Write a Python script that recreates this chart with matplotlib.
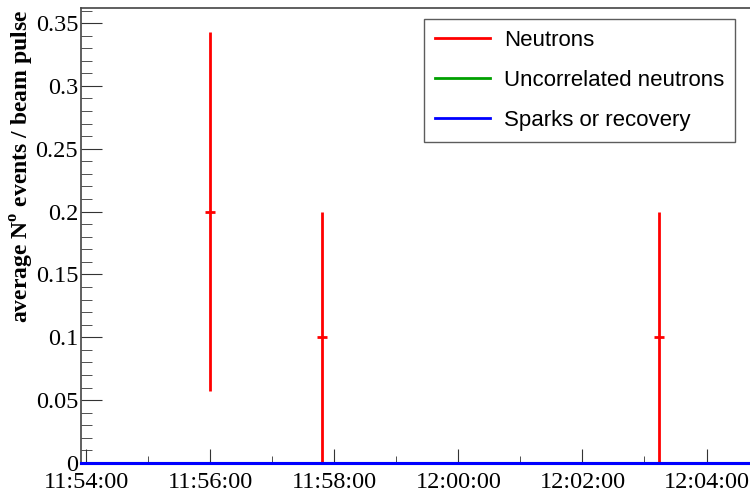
import datetime
import matplotlib
matplotlib.use("Agg")
import matplotlib.pyplot as plt
import matplotlib.dates as mdates
from matplotlib.lines import Line2D
from matplotlib.ticker import MultipleLocator

plt.rcParams['mathtext.fontset'] = 'custom'
plt.rcParams['mathtext.bf'] = 'Liberation Serif:bold'
plt.rcParams['mathtext.rm'] = 'Liberation Serif'

# data
times = ['11:56:00', '11:57:48', '12:03:14']
neutrons = [0.2, 0.1, 0.1]
neutrons_err = [0.143, 0.1, 0.1]
labels = ['Neutrons', 'Uncorrelated neutrons', 'Sparks or recovery']
colors = ['#ff0000', '#00a000', '#0000ff']

day = datetime.date(2000, 1, 1)
def t(s):
    return datetime.datetime.combine(day, datetime.datetime.strptime(s, '%H:%M:%S').time())

x = [mdates.date2num(t(s)) for s in times]
xmin = mdates.date2num(t('11:53:55'))
xmax = mdates.date2num(t('12:04:44'))

my_dpi = 100
fig = plt.figure(figsize=(750/my_dpi, 492/my_dpi), dpi=my_dpi)
ax = fig.add_axes([81/750, 29/492, 671/750, 455/492])

ax.errorbar(x, neutrons, yerr=neutrons_err, xerr=5/86400., fmt='none',
            ecolor=colors[0], elinewidth=2, capsize=0, zorder=3)
ax.plot([xmin, xmax], [0, 0], color=colors[1], lw=2.2, zorder=4, clip_on=False)
ax.plot([xmin, xmax], [0, 0], color=colors[2], lw=2.2, zorder=5, clip_on=False)

ax.set_xlim(xmin, xmax)
ax.set_ylim(0, 0.362)

ax.xaxis.set_major_locator(mdates.MinuteLocator(byminute=range(0, 60, 2)))
ax.xaxis.set_minor_locator(mdates.MinuteLocator())
ax.xaxis.set_major_formatter(mdates.DateFormatter('%H:%M:%S'))
ax.yaxis.set_major_locator(MultipleLocator(0.05))
ax.yaxis.set_minor_locator(MultipleLocator(0.01))
ax.yaxis.set_major_formatter(lambda v, p: ('%g' % round(v, 3)))

for lab in ax.get_xticklabels() + ax.get_yticklabels():
    lab.set_fontfamily('Liberation Serif')
    lab.set_fontsize(17.5)
ax.tick_params(axis='both', which='both', direction='in', color='#333333')
ax.tick_params(axis='y', which='major', length=15, pad=2)
ax.tick_params(axis='y', which='minor', length=8)
ax.tick_params(axis='x', which='major', length=10, pad=6.5)
ax.tick_params(axis='x', which='minor', length=5)
for sp in ax.spines.values():
    sp.set_color('#444444')
    sp.set_linewidth(1.2)

fig.text(22/750, 482/492, r'average N$^{\mathbf{o}}$ events / beam pulse',
         rotation=90, ha='center', va='top', fontfamily='Liberation Serif',
         fontweight='bold', fontsize=17)

handles = [Line2D([], [], color=c, lw=2) for c in colors]
leg = ax.legend(handles, labels, loc='upper right',
                bbox_to_anchor=(735/750, 473/492), bbox_transform=fig.transFigure,
                prop={'family': 'Liberation Sans', 'size': 16},
                fancybox=False, frameon=True, borderaxespad=0,
                handlelength=2.5, labelspacing=0.85, borderpad=0.5,
                handletextpad=0.6)
leg.get_frame().set_edgecolor('#333333')
leg.get_frame().set_linewidth(1.0)

plt.savefig('out.png', dpi=my_dpi)
